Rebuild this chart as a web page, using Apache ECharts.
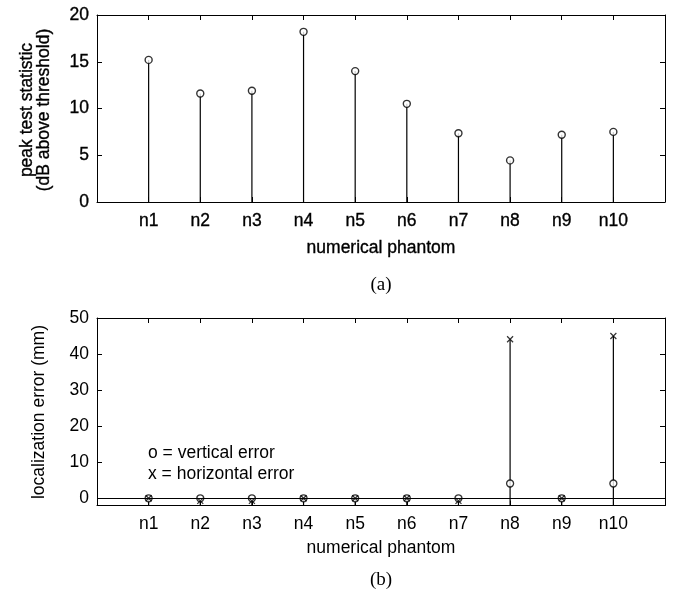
<!DOCTYPE html>
<html><head><meta charset="utf-8">
<script src="https://cdn.jsdelivr.net/npm/echarts@6/dist/echarts.min.js"></script>
<style>html,body{margin:0;padding:0;background:#fff}#c{width:673px;height:597px}</style>
</head><body><div id="c"></div>
<script>
const categories = ['n1','n2','n3','n4','n5','n6','n7','n8','n9','n10'];
const peakStat = [15.2, 11.6, 11.9, 18.2, 14.0, 10.5, 7.35, 4.45, 7.2, 7.5];
const verticalErr = [0, 0, 0, 0, 0, 0, 0, 4.1, 0, 4.1];
const horizontalErr = [0, -0.7, -0.7, 0, 0, 0, -0.7, 44.1, 0, 45.0];
const topTicks = [0, 5, 10, 15, 20];
const bottomTicks = [0, 10, 20, 30, 40, 50];

const FONT = 'Liberation Sans, Arial, sans-serif';
const FS = 17.5;
const HW = 0.35;
const chart = echarts.init(document.getElementById('c'), null, {renderer:'canvas'});

function xAx(grid, pos, labels, heavy){
  return {
    type:'value', gridIndex:grid, position:pos, min:0, max:11, interval:1,
    axisLine:{show:true, onZero:false, lineStyle:{color:'#000', width:1}},
    axisTick:{show:true, inside:true, length:5, lineStyle:{color:'#000'}},
    axisLabel:{show:labels, margin:10, color:'#000', fontFamily:FONT, fontSize:FS,
      textBorderColor:'#000', textBorderWidth: heavy ? HW : 0,
      formatter:v => (v>=1 && v<=10) ? categories[v-1] : ''},
    splitLine:{show:false}
  };
}
function yAx(grid, pos, labels, min, max, ticks, heavy){
  return {
    type:'value', gridIndex:grid, position:pos, min:min, max:max,
    axisLine:{show:true, onZero:false, lineStyle:{color:'#000', width:1}},
    axisTick:{show:true, inside:true, length:5, lineStyle:{color:'#000'}, customValues:ticks},
    axisLabel:{show:labels, margin:8, color:'#000', fontFamily:FONT, fontSize:FS, customValues:ticks,
      textBorderColor:'#000', textBorderWidth: heavy ? HW : 0},
    splitLine:{show:false}
  };
}

function stemRender(base){
  return function(params, api){
    const x = api.value(0), y = api.value(1);
    const p1 = api.coord([x, base]);
    const p2 = api.coord([x, y]);
    return {type:'line', shape:{x1:p1[0], y1:p1[1], x2:p2[0], y2:p2[1]},
      style:{stroke:'#000', lineWidth:1.2}};
  };
}

const idx = categories.map((c,i)=>i+1);
const crossPath = 'path://M0,0L10,10M10,0L0,10';
const heavyStyle = {stroke:'#000', lineWidth:HW};

chart.setOption({
  animation:false,
  backgroundColor:'#fff',
  grid:[
    {left:97, top:15, width:568, height:187},
    {left:97, top:318, width:568, height:187.5}
  ],
  xAxis:[ xAx(0,'bottom',true,true), xAx(0,'top',false), xAx(1,'bottom',true,false), xAx(1,'top',false) ],
  yAxis:[ yAx(0,'left',true,0,20,topTicks,true), yAx(0,'right',false,0,20,topTicks),
          yAx(1,'left',true,-2,50,bottomTicks,false), yAx(1,'right',false,-2,50,bottomTicks) ],
  series:[
    {type:'custom', xAxisIndex:0, yAxisIndex:0, renderItem:stemRender(0),
      data: idx.map((x,i)=>[x, peakStat[i]]), z:2},
    {type:'scatter', xAxisIndex:0, yAxisIndex:0, symbol:'circle', symbolSize:7,
      itemStyle:{color:'#fff', borderColor:'#000', borderWidth:1.4},
      data: idx.map((x,i)=>[x, peakStat[i]]), z:3},
    {type:'custom', xAxisIndex:2, yAxisIndex:2, renderItem:stemRender(-2),
      data: idx.map((x,i)=>[x, horizontalErr[i]]), z:2,
      markLine:{silent:true, symbol:'none', label:{show:false},
        lineStyle:{color:'#000', width:1, type:'solid'}, data:[{yAxis:0}]}},
    {type:'scatter', xAxisIndex:2, yAxisIndex:2, symbol:'circle', symbolSize:7,
      itemStyle:{color:'#fff', borderColor:'#000', borderWidth:1.3},
      data: idx.map((x,i)=>[x, verticalErr[i]]), z:3},
    {type:'scatter', xAxisIndex:2, yAxisIndex:2, symbol:crossPath, symbolSize:6,
      itemStyle:{color:'none', borderColor:'#000', borderWidth:1.2},
      data: idx.map((x,i)=>[x, horizontalErr[i]]), z:4}
  ],
  graphic:[
    {type:'text', x:27, y:110, rotation:Math.PI/2, style:Object.assign({text:'peak test statistic', font:FS+'px '+FONT, fill:'#000', align:'center', verticalAlign:'middle'}, heavyStyle)},
    {type:'text', x:44, y:110, rotation:Math.PI/2, style:Object.assign({text:'(dB above threshold)', font:FS+'px '+FONT, fill:'#000', align:'center', verticalAlign:'middle'}, heavyStyle)},
    {type:'text', x:381, y:248, style:Object.assign({text:'numerical phantom', font:FS+'px '+FONT, fill:'#000', align:'center', verticalAlign:'middle'}, heavyStyle)},
    {type:'text', x:381, y:285, style:{text:'(a)', font:'19px Liberation Serif, Times New Roman, serif', fill:'#000', align:'center', verticalAlign:'middle'}},
    {type:'text', x:39, y:412, rotation:Math.PI/2, style:{text:'localization error (mm)', font:FS+'px '+FONT, fill:'#000', align:'center', verticalAlign:'middle'}},
    {type:'text', x:148, y:453, style:{text:'o = vertical error', font:FS+'px '+FONT, fill:'#000', align:'left', verticalAlign:'middle'}},
    {type:'text', x:148, y:474, style:{text:'x = horizontal error', font:FS+'px '+FONT, fill:'#000', align:'left', verticalAlign:'middle'}},
    {type:'text', x:381, y:548, style:{text:'numerical phantom', font:FS+'px '+FONT, fill:'#000', align:'center', verticalAlign:'middle'}},
    {type:'text', x:381, y:580, style:{text:'(b)', font:'19px Liberation Serif, Times New Roman, serif', fill:'#000', align:'center', verticalAlign:'middle'}}
  ]
});
</script></body></html>
